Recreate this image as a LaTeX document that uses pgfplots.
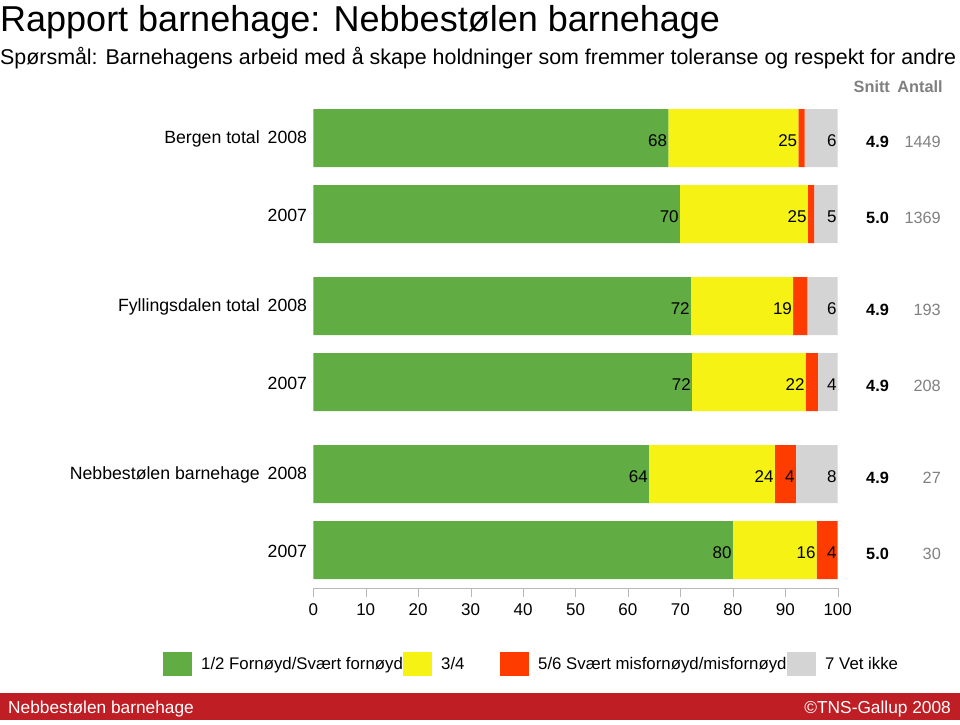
\documentclass[border=0pt]{standalone}
\usepackage{fontspec}
\setmainfont{Liberation Sans}
\usepackage{pgfplots}
\usepackage{pgfplotstable}
\pgfplotsset{compat=1.18}
\definecolor{cgreen}{RGB}{98,172,68}
\definecolor{cyellow}{RGB}{246,242,20}
\definecolor{cred}{RGB}{255,60,0}
\definecolor{cgrey}{RGB}{212,212,212}
\definecolor{cfoot}{RGB}{191,30,36}
\definecolor{cgtext}{RGB}{128,128,128}
\pgfplotstableread{
y v lab
-138 67.7 68
-214 69.9 70
-306 72.0 72
-382 72.2 72
-474 64.0 64
-550 80.0 80
}\tgreen
\pgfplotstableread{
y v lab
-138 24.8 25
-214 24.4 25
-306 19.5 19
-382 21.7 22
-474 24.0 24
-550 16.0 16
}\tyellow
\pgfplotstableread{
y v lab
-138 1.2 {}
-214 1.2 {}
-306 2.7 {}
-382 2.3 {}
-474 4.0 4
-550 4.0 4
}\tred
\pgfplotstableread{
y v lab
-138 6.3 6
-214 4.5 5
-306 5.8 6
-382 3.8 4
-474 8.0 8
}\tgrey
\tikzset{snitt/.style={anchor=east, inner sep=0pt, font=\bfseries\fontsize{16.3}{18}\selectfont},
  antall/.style={anchor=east, inner sep=0pt, font=\fontsize{16.3}{18}\selectfont, text=cgtext}}
\begin{document}
\begin{tikzpicture}
\useasboundingbox (0,0) rectangle (960pt,-724pt);
\node[anchor=base west, inner sep=0pt, font=\fontsize{36}{40}\selectfont] at (0,-31pt) {Rapport barnehage: Nebbestølen barnehage};
\node[anchor=base west, inner sep=0pt, font=\fontsize{21.4}{24}\selectfont] at (0,-64pt) {Spørsmål: Barnehagens arbeid med å skape holdninger som fremmer toleranse og respekt for andre};
\fill[cfoot] (0,-693pt) rectangle (960pt,-720pt);
\node[anchor=base west, inner sep=0pt, text=white, font=\fontsize{17.3}{19}\selectfont] at (8pt,-713pt) {Nebbestølen barnehage};
\node[anchor=base east, inner sep=0pt, text=white, font=\fontsize{17.3}{19}\selectfont] at (951pt,-713pt) {©TNS-Gallup 2008};
\begin{axis}[
  at={(313.3pt,-588pt)}, anchor=south west,
  scale only axis, width=524.4pt, height=488pt,
  xmin=0, xmax=100, ymin=-588, ymax=-100,
  clip=false,
  xbar stacked, bar width=58pt,
  axis x line*=bottom, axis y line*=left,
  x axis line style={draw=gray!55, -},
  y axis line style={draw=none},
  xtick={0,10,...,100},
  xtick align=outside, major tick length=9pt,
  xtick style={draw=gray!55},
  ytick={-138,-214,-306,-382,-474,-550},
  yticklabels={Bergen total\hspace{0.45em}2008, 2007, Fyllingsdalen total\hspace{0.45em}2008, 2007, Nebbestølen barnehage\hspace{0.45em}2008, 2007},
  ytick style={draw=none},
  y tick label style={anchor=east, inner sep=0pt, xshift=-6pt, yshift=-1pt, font=\fontsize{17.7}{20}\selectfont},
  x tick label style={font=\fontsize{17}{20}\selectfont, inner sep=0pt, yshift=-6pt},
  /pgf/number format/assume math mode=true,
  point meta=explicit symbolic,
  nodes near coords,
  visualization depends on={\thisrow{v} \as \segw},
  every node near coord/.append style={anchor=east, inner sep=1pt, xshift=\segw*2.622pt, yshift=-3pt, font=\fontsize{17}{20}\selectfont, text=black},
  legend style={at={(-0.2923,-0.1557)}, anchor=west, draw=none, fill=none,
    legend columns=4, font=\fontsize{16.8}{18}\selectfont,
    nodes={inner sep=0pt},
    /tikz/every even column/.append style={column sep=0pt},
    /tikz/every odd column/.append style={column sep=9pt},
    legend cell align=left},
  legend image code/.code={\fill[#1] (0pt,-12pt) rectangle (29pt,12pt);},
]
\addplot[fill=cgreen, draw=none] table[x=v, y=y, meta=lab] {\tgreen};
\addplot[fill=cyellow, draw=none] table[x=v, y=y, meta=lab] {\tyellow};
\addplot[fill=cred, draw=none] table[x=v, y=y, meta=lab] {\tred};
\addplot[fill=cgrey, draw=none] table[x=v, y=y, meta=lab] {\tgrey};
\legend{\makebox[202pt][l]{1/2 Fornøyd/Svært fornøyd}, \makebox[59pt][l]{3/4}, \makebox[249pt][l]{5/6 Svært misfornøyd/misfornøyd}, 7 Vet ikke}
\node[anchor=base, font=\bfseries\fontsize{16.3}{18}\selectfont, text=cgtext] at (axis cs:106.5,-92) {Snitt};
\node[anchor=base, font=\bfseries\fontsize{16.3}{18}\selectfont, text=cgtext] at (axis cs:115.7,-92) {Antall};
\node[snitt] at (axis cs:109.8,-142) {4.9};
\node[antall] at (axis cs:119.7,-142) {1449};
\node[snitt] at (axis cs:109.8,-218) {5.0};
\node[antall] at (axis cs:119.7,-218) {1369};
\node[snitt] at (axis cs:109.8,-310) {4.9};
\node[antall] at (axis cs:119.7,-310) {193};
\node[snitt] at (axis cs:109.8,-386) {4.9};
\node[antall] at (axis cs:119.7,-386) {208};
\node[snitt] at (axis cs:109.8,-478) {4.9};
\node[antall] at (axis cs:119.7,-478) {27};
\node[snitt] at (axis cs:109.8,-554) {5.0};
\node[antall] at (axis cs:119.7,-554) {30};
\end{axis}
\end{tikzpicture}
\end{document}
